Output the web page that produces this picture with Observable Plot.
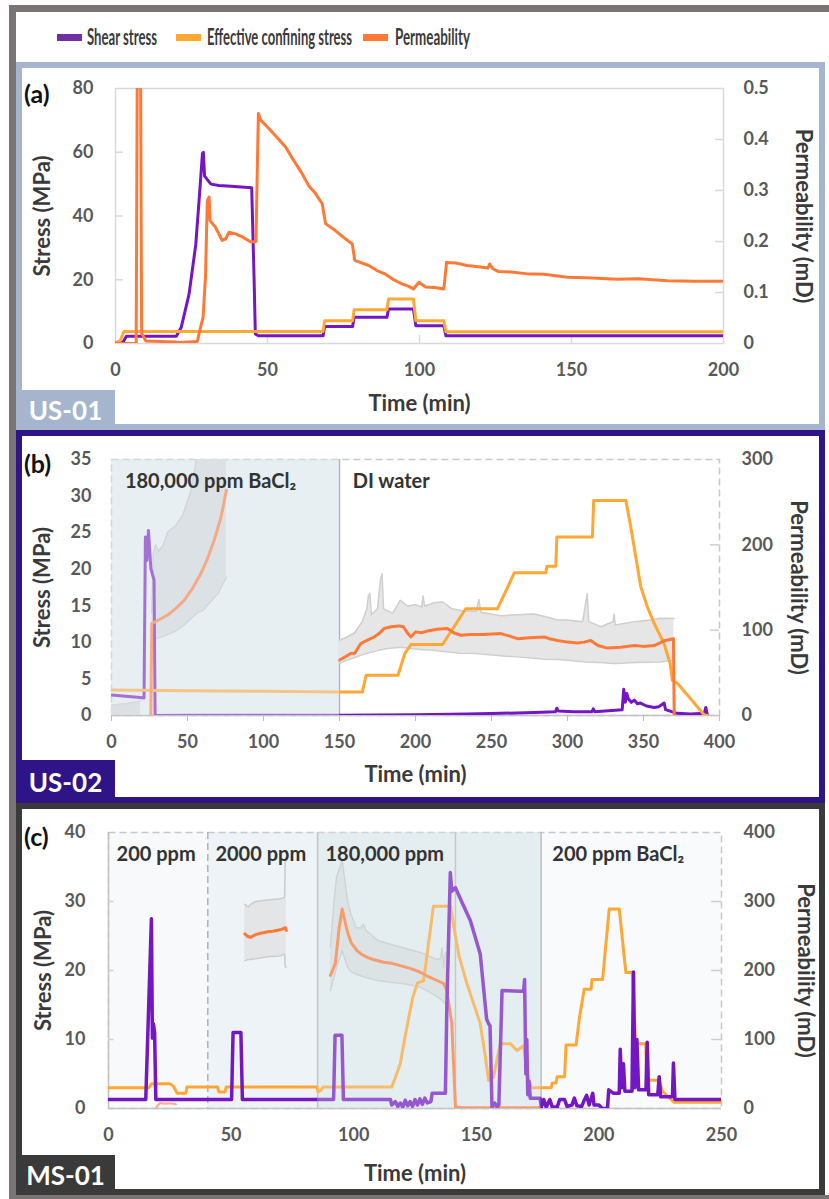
<!DOCTYPE html>
<html><head><meta charset="utf-8">
<script src="https://cdn.jsdelivr.net/npm/d3@7"></script>
<script src="https://cdn.jsdelivr.net/npm/@observablehq/plot@0.6"></script>
<style>
body{margin:0;background:#fff;}
#root{position:relative;width:829px;height:1199px;overflow:hidden;background:#fff;font-family:Lato,"Open Sans",sans-serif;}
.g{position:absolute;background:#7a7574;}
.panel{position:absolute;left:16px;width:809px;box-sizing:border-box;border:6px solid;}
.tag{position:absolute;left:16px;width:99px;color:#fff;font-weight:bold;font-size:26px;display:flex;align-items:center;justify-content:center;}
.plab{position:absolute;left:24px;font-weight:bold;font-size:25px;line-height:30px;color:#111;}
.sw{position:absolute;top:34px;width:25px;height:7px;}
.lt{position:absolute;top:24px;height:26px;line-height:26px;font-size:22px;font-weight:bold;color:#3b3b3b;transform-origin:0 50%;white-space:nowrap;}
.chart{position:absolute;left:0;}
</style></head>
<body><div id="root">
<div class="g" style="left:9px;top:5px;width:7px;height:1194px"></div>
<div class="g" style="left:9px;top:5px;width:820px;height:7px"></div>
<div class="g" style="left:9px;top:1195px;width:820px;height:4px"></div>
<div class="panel" style="top:62px;height:368px;border-color:#a4b5cd"></div>
<div class="panel" style="top:430px;height:373px;border-color:#2f1488"></div>
<div class="panel" style="top:803px;height:392px;border-color:#3a3a3a"></div>
<div id="legend"></div>
<div id="ca" class="chart" style="top:62px"></div>
<div id="cb" class="chart" style="top:430px"></div>
<div id="cc" class="chart" style="top:803px"></div>
<div class="tag" style="top:390px;height:40px;background:#a4b5cd">US-01</div>
<div class="tag" style="top:760px;height:43px;background:#2f1488">US-02</div>
<div class="tag" style="top:1155px;height:40px;background:#3a3a3a">MS-01</div>
<div class="plab" style="top:78px">(a)</div>
<div class="plab" style="top:448px">(b)</div>
<div class="plab" style="top:821px">(c)</div>
</div>
<script>
// ---------- legend ----------
const seriesNames = ["Shear stress", "Effective confining stress", "Permeability"];
const seriesColors = ["#7416c2", "#ffa733", "#ff7936"];

// ---------- panel (a) US-01 : [time (min), value] ----------
const a_shear = [[0,0.3],[2.5,0.5],[3.6,2.3],[20,2.3],[21.6,5],[24.2,15.5],[26.4,31],[27.5,45],[28.6,59.6],[28.9,60],[29.3,52.5],[31.4,50],[34,49.6],[38,49.3],[44.8,48.9],[45.6,20],[46,3],[47,2.4],[68.3,2.4],[68.8,5.3],[78,5.3],[78.5,8.2],[89.3,8.2],[89.8,10.8],[98,10.8],[98.8,5.6],[108,5.6],[108.7,2.4],[200,2.4]];
const a_conf = [[0,0.2],[1.5,0.8],[2.8,3.8],[68.3,3.8],[68.8,7.1],[78,7.1],[78.5,10.6],[89.3,10.6],[89.8,14],[98,14],[98.8,7.1],[108,7.1],[108.7,3.7],[200,3.7]];
const a_perm = [[0,0],[6.8,0],[7.2,0.6],[8.2,0.6],[8.6,0.02],[10,0.005],[15,0.004],[19.5,0.003],[21,0.002],[24,0.003],[26.9,0.004],[27.7,0.025],[28.8,0.051],[29.6,0.13],[30.2,0.28],[30.8,0.287],[31.1,0.241],[32.9,0.228],[35.1,0.202],[36.2,0.205],[37.3,0.218],[39.5,0.215],[41.7,0.209],[44.5,0.199],[46.2,0.2],[47,0.451],[47.8,0.438],[50.5,0.421],[53,0.405],[56,0.385],[58.5,0.36],[61.4,0.333],[63.5,0.31],[65.8,0.294],[68,0.274],[69.1,0.235],[72.4,0.221],[75,0.208],[77.9,0.195],[78.7,0.163],[83.3,0.153],[86,0.143],[88.8,0.136],[91.5,0.125],[94.2,0.117],[96.5,0.112],[98,0.107],[99.8,0.12],[102,0.111],[105,0.11],[108,0.107],[108.9,0.159],[112,0.158],[115.6,0.153],[120,0.15],[122.5,0.148],[123.1,0.156],[124,0.147],[126,0.141],[130,0.14],[135,0.137],[140.9,0.136],[148.6,0.13],[155,0.129],[165,0.126],[172,0.127],[181.5,0.123],[190,0.122],[200,0.122]];

// ---------- panel (b) US-02 ----------
const b_shear = [[0,2.8],[17,2.5],[21.4,2.4],[22.3,24.4],[23.3,21.2],[24.3,25.3],[25.9,20.1],[28,18.5],[28.7,0],[60,0.05],[150,0.05],[200,0.1],[234,0.2],[256,0.3],[278,0.4],[292,0.5],[293,1.0],[294,0.6],[304,0.5],[316,0.5],[317,0.9],[318,0.5],[336,0.8],[337,3.6],[338,1.8],[339,3.0],[340,2.3],[342,1.8],[344,2.1],[346,1.6],[348,1.7],[352,1.3],[357,1.1],[360,1.2],[363.6,1.7],[364.5,0.8],[366,0.7],[372,0.3],[381,0.2],[390,0.3],[391,1.1],[392,0.1]];
const b_conf = [[0,3.5],[50,3.4],[100,3.3],[150,3.2],[165,3.2],[167.5,5.5],[188.5,5.5],[193,8.5],[197,9.7],[217.8,9.7],[233,14.6],[254,14.6],[265,19.5],[285.7,19.5],[286.5,20.4],[292.3,20.4],[293,24.4],[316.4,24.4],[317.2,29.4],[338.4,29.4],[341.6,25.8],[348.2,17.6],[352.6,14.8],[357,12.6],[363.6,9.8],[367.5,7.1],[369,4.8],[372.3,4.4],[378.9,2.8],[385.4,1.2],[389.8,0.1],[392,0]];
const b_perm1 = [[25.9,0],[26.5,107.8],[30,111],[36.8,117.5],[42,125],[47.8,135],[53,148],[58.7,166],[63,183],[67.5,205],[72,232],[75.6,264]];
const b_band1 = [[26.5,95,120],[27.5,92,190],[29,90,200],[31,91,192],[34,93,200],[37,95,215],[42,99,222],[47,105,235],[52,113,262],[55,118,290],[57,121,320],[60,123,330],[70,143,330],[75.6,162,330]];
const b_band0 = [[0,0,12],[10,0,14],[19,0,17]];
const b_perm2 = [[149.8,64.8],[153,68],[157.4,72.6],[160,73],[164,84.4],[168,88],[172.8,92],[176,96],[179.3,102],[184,104],[189.2,105],[192,104],[195,96],[197,92],[200,98],[204,97],[207.9,99],[214,101],[221,102],[225,97],[229.8,94],[236,95],[245,95],[256,96],[262,93],[267,90],[275,91],[284.6,92],[288,90],[293.4,88],[300,86],[306.6,85],[311,86],[315.3,88],[320,82],[326.3,79],[335,80],[344,82],[350,81],[357,82],[363.6,87.5],[369.7,90],[370.2,0]];
const b_band2 = [[149.8,61,88],[155,65,92],[160,68,97],[165,71,110],[168,73,125],[169,73,140],[170,74,143],[171,74,118],[175,76,125],[177,77,160],[178,77,166],[179,78,125],[185,79,120],[190,80,135],[195,79,128],[200,78,130],[204,77,127],[205,77,140],[206,77,128],[212,76.5,132],[218,75,133],[224,74,125],[229.8,73,123],[240,72.6,122],[241.7,72.5,136],[243,72,121],[256,70,117],[267,68.7,118],[278,67,119],[285,66,116],[293.4,65.5,112],[300,64.8,112],[310,63,110],[313,62.5,143],[314,62.5,110],[322,62,104],[330,61,110],[330.6,61,119],[331.5,61,106],[344,62,110],[355,62.5,112],[361,62.7,114],[370,64.8,113.6]];

// ---------- panel (c) MS-01 ----------
const c_shear = [[0,1.3],[15.2,1.3],[17.5,27.5],[17.9,10.2],[18.3,12.3],[18.8,11],[19.3,1.3],[50.2,1.3],[50.8,11],[54,11],[54.6,1.3],[91.8,1.3],[92.4,10.6],[95.2,10.6],[95.8,1.3],[115,1.3],[115.5,0.5],[117,1],[118,0.3],[119,0.8],[120,0.2],[121,1.2],[122,0.4],[123,1],[124,0.3],[125,1.3],[126,0.5],[127,1.4],[128,0.6],[129,1.5],[130,0.8],[131.5,1],[132,2.2],[137.4,2.2],[138,15],[139.4,34.2],[140,31.5],[141.5,32],[144,30],[147.6,27.2],[151.6,22.4],[154.2,13],[155,12.3],[155.6,12],[156.4,0.2],[157.5,0.8],[158.5,0.2],[159.2,0.5],[160.5,17.1],[168,17],[169.3,17],[169.7,18.7],[170.2,5],[170.6,10],[171,2],[171.5,4],[172,1.5],[176,1.5],[176.5,0.2],[177.5,1.3],[178.5,0.2],[180,1.3],[181,0.2],[183,0.2],[184,1.3],[186,1.3],[187,0.3],[189,0.5],[190,1.5],[191,0.4],[193,0.3],[194,1.2],[195,1.9],[196,0.5],[197.5,2.2],[198,0.5],[200,0.5],[201.4,0],[203.5,0],[204,2.7],[206,2.2],[208.3,2.2],[208.7,8.6],[209.3,3],[210,6.5],[210.6,2.5],[213.5,2.5],[214.1,19.8],[214.7,3],[215.5,10],[216.2,2.7],[219.2,2.7],[219.7,9.6],[220.3,2],[224,2],[224.6,4.6],[225.2,1.7],[230,1.7],[230.4,6.6],[231,1.3],[250,1.3]];
const c_conf = [[0,3],[16.5,3],[17.5,3.6],[25,3.6],[26.5,3.2],[28,2.2],[31.5,2.2],[32,3.1],[44.5,3.1],[45,2.4],[47.5,2.4],[48,3.1],[85,3.1],[85.5,2.4],[86.5,2.6],[87.5,3.1],[115.5,3.1],[117,4.5],[119,6.5],[121,10.5],[124,16],[126,18.2],[128.5,18.5],[132.5,29.3],[139.5,29.3],[141,26],[143,22],[146.2,18.1],[151.6,12.3],[153.5,8],[155,4.1],[157,4.5],[159.8,9.4],[163.9,9.4],[166.6,8.4],[169.3,9.1],[171.3,4.1],[172.6,3],[180.5,3],[181,3.7],[182.5,3.7],[183,4.6],[186,4.6],[186.6,9.2],[190.7,9.2],[192,13],[194,17.3],[196.8,17.3],[197.2,18.7],[201.5,18.7],[204.2,28.9],[208.3,28.9],[211,19.7],[213.7,19.7],[215,9.4],[219.1,9.4],[219.5,4.1],[224.5,4.1],[225.9,2.5],[230.6,0.9],[250,0.9]];
const c_perm0 = [[19.5,2],[21,8],[23,7],[25,7.5],[27.5,6]];
const c_perm2 = [[55.6,253],[56.5,250],[57.9,248],[60,252],[62,254],[64.7,256],[67,257],[70,259],[72.2,262],[72.5,258]];
const c_band2 = [[55.6,214,296],[57,216,292],[58,216,296],[60,217,300],[65,220,302],[70,221,304],[71.8,224,306],[72.1,205,358],[72.5,205,360]];
const c_perm3 = [[90.5,193],[92.5,210],[94,260],[95.3,289],[97.3,258],[99,240],[101.3,229],[103,224],[105.5,219],[108,216],[112.2,212],[116,210],[119,207],[123,203],[127.2,197.5],[130,192],[134,185.5],[136.7,181],[138,171],[140,123],[141.5,2],[145,1],[176,1]];
const c_band3 = [[90.5,171,234],[92,190,300],[93,205,335],[95.3,229,359],[97.5,205,301],[99,198,280],[101,195,262],[103,192,262],[104,191,267],[105,190,258],[110,185.5,243],[115,183,238],[120,181,233],[127.2,176,226],[134,162,216],[135.5,158,218],[136,157,233],[136.7,154,204],[137.4,152,226],[138.5,152,226]];

// tick labels
const a_xticks = [0,50,100,150,200], a_yticks = [0,20,40,60,80], a_rticks = [0,0.1,0.2,0.3,0.4,0.5];
const b_xticks = [0,50,100,150,200,250,300,350,400], b_yticks = [0,5,10,15,20,25,30,35], b_rticks = [0,100,200,300];
const c_xticks = [0,50,100,150,200,250], c_yticks = [0,10,20,30,40], c_rticks = [0,100,200,300,400];

const FONT = "Lato, 'Open Sans', sans-serif";
const [CS, CC, CP] = seriesColors;
const TICK = {fontSize: 18, fontWeight: "bold", fill: "#595959", label: null, tickSize: 0};
const TITLE = {fontSize: 22, fontWeight: "bold", fill: "#3a3a3a", text: d => d, textAnchor: "middle", lineAnchor: "middle"};

function line(data, f, stroke, w, extra = {}) {
  return Plot.line(data, {x: d => d[0], y: d => d[1] * f, stroke, strokeWidth: w, clip: true, strokeLinejoin: "round", ...extra});
}
function band(data, f, fill, edge) {
  return [
    Plot.areaY(data, {x: d => d[0], y1: d => d[1] * f, y2: d => d[2] * f, fill, clip: true}),
    Plot.line(data, {x: d => d[0], y: d => d[1] * f, stroke: edge, strokeWidth: 1.5, clip: true}),
    Plot.line(data, {x: d => d[0], y: d => d[2] * f, stroke: edge, strokeWidth: 1.5, clip: true})
  ];
}
function titles(dxL, dxR, dyB) {
  return [
    Plot.text(["Stress (MPa)"], {...TITLE, frameAnchor: "left", dx: dxL, rotate: -90}),
    Plot.text(["Permeability (mD)"], {...TITLE, frameAnchor: "right", dx: dxR, rotate: 90}),
    Plot.text(["Time (min)"], {...TITLE, frameAnchor: "bottom", dy: dyB})
  ];
}
const label = (t, s) => Plot.text([{t, s}], {x: "t", text: "s", frameAnchor: "top", dy: 22, textAnchor: "start", lineAnchor: "middle", fontSize: 20, fontWeight: "bold", fill: "#333"});

// ---------- panel a ----------
const fa = 80 / 0.5;
const A = Plot.plot({
  width: 829, height: 368, marginTop: 26, marginBottom: 87, marginLeft: 115, marginRight: 106,
  x: {domain: [0, 200]}, y: {domain: [0, 80]},
  style: {background: "transparent", fontFamily: FONT, overflow: "visible"},
  marks: [
    Plot.frame({stroke: "#d9d9d9", strokeWidth: 1.5}),
    Plot.ruleY([20, 40, 60], {x1: 0, x2: 2.6, stroke: "#d9d9d9", strokeWidth: 1.5}),
    Plot.ruleY([0.1, 0.2, 0.3, 0.4], {y: d => d * fa, x1: 197.4, x2: 200, stroke: "#d9d9d9", strokeWidth: 1.5}),
    Plot.ruleX([50, 100, 150], {y1: 0, y2: 2.5, stroke: "#d9d9d9", strokeWidth: 1.5}),
    Plot.axisY({...TICK, ticks: a_yticks, tickPadding: 22}),
    Plot.axisY({...TICK, anchor: "right", ticks: a_rticks.map(v => v * fa), tickFormat: d => d === 0 ? "0" : (d / fa).toFixed(1), tickPadding: 20}),
    Plot.axisX({...TICK, ticks: a_xticks, tickPadding: 20}),
    ...titles(-73, 80, 60),
    line(a_shear, 1, CS, 3),
    line(a_conf, 1, CC, 3),
    line(a_perm, fa, CP, 3)
  ]
});
document.getElementById("ca").append(A);

// ---------- panel b ----------
const fb = 35 / 300;
const B = Plot.plot({
  width: 829, height: 373, marginTop: 29, marginBottom: 88, marginLeft: 111, marginRight: 110,
  x: {domain: [0, 400]}, y: {domain: [0, 35]},
  style: {background: "transparent", fontFamily: FONT, overflow: "visible"},
  marks: [
    Plot.rect([[0, 150]], {x1: d => d[0], x2: d => d[1], fill: "#e7eff2"}),
    Plot.frame({stroke: "#c8c8c8", strokeDasharray: "7,4", strokeWidth: 1.5}),
    Plot.ruleX([150], {stroke: "#b3b3b3", strokeWidth: 1.5}),
    Plot.ruleY([0], {stroke: "#c4c4c4", strokeWidth: 1.5}),
    Plot.ruleY([100, 200], {y: d => d * fb, x1: 394, x2: 400, stroke: "#cfcfcf", strokeWidth: 1.5}),
    Plot.axisY({...TICK, ticks: b_yticks, tickPadding: 20}),
    Plot.axisY({...TICK, anchor: "right", ticks: b_rticks.map(v => v * fb), tickFormat: d => String(Math.round(d / fb)), tickPadding: 22}),
    Plot.axisX({...TICK, ticks: b_xticks, tickSize: 6, stroke: "#bfbfbf", tickPadding: 14}),
    ...titles(-69, 79, 59),
    ...band(b_band0, fb, "#d6d6d6", "#cccccc"),
    ...band(b_band1, fb, "#d3d8da", "#c6c6c6"),
    ...band(b_band2, fb, "#e6e6e6", "#cfcfcf"),
    line(b_shear, 1, CS, 3),
    line(b_conf, 1, CC, 3),
    line(b_perm1, fb, CP, 3),
    line(b_perm2, fb, CP, 3),
    Plot.rect([[0, 150]], {x1: d => d[0], x2: d => d[1], fill: "#e7eff2", fillOpacity: 0.42}),
    label(8.8, "180,000 ppm BaCl₂"),
    label(158.7, "DI water")
  ]
});
document.getElementById("cb").append(B);

// ---------- panel c ----------
const fc = 40 / 400;
const regions = [[0, 40.5, "#f7f9fb"], [40.5, 85.3, "#edf3f6"], [85.3, 176.4, "#e4edf0"], [176.4, 250, "#f8fafc"]];
const C = Plot.plot({
  width: 829, height: 392, marginTop: 29, marginBottom: 87, marginLeft: 108, marginRight: 108,
  x: {domain: [0, 250]}, y: {domain: [0, 40]},
  style: {background: "transparent", fontFamily: FONT, overflow: "visible"},
  marks: [
    Plot.rect(regions, {x1: d => d[0], x2: d => d[1], fill: d => d[2]}),
    Plot.frame({stroke: "#c8c8c8", strokeDasharray: "7,4", strokeWidth: 1.5}),
    Plot.ruleY([0], {stroke: "#c4c4c4", strokeWidth: 1.5}),
    Plot.ruleX([0], {stroke: "#c4c4c4", strokeWidth: 1.5}),
    Plot.ruleX([40.5], {stroke: "#a8a8a8", strokeWidth: 1.3, strokeDasharray: "7,4"}),
    Plot.ruleX([85.3, 141.5, 176.4], {stroke: "#b8b8b8", strokeWidth: 1.5}),
    Plot.ruleY([10, 20, 30], {x1: 0, x2: 2.2, stroke: "#cfcfcf", strokeWidth: 1.5}),
    Plot.ruleY([100, 200, 300], {y: d => d * fc, x1: 246, x2: 250, stroke: "#cfcfcf", strokeWidth: 1.5}),
    Plot.axisY({...TICK, ticks: c_yticks, tickPadding: 23}),
    Plot.axisY({...TICK, anchor: "right", ticks: c_rticks.map(v => v * fc), tickFormat: d => String(Math.round(d / fc)), tickPadding: 22}),
    Plot.axisX({...TICK, ticks: c_xticks, tickPadding: 20}),
    ...titles(-65, 84, 65),
    ...band(c_band2, fc, "#e3e5e6", "#cdcdcd"),
    ...band(c_band3, fc, "#d9dfe1", "#c9c9c9"),
    line(c_perm0, fc, CP, 2, {strokeOpacity: 0.6}),
    line(c_conf, 1, CC, 3),
    line(c_perm2, fc, CP, 3),
    line(c_perm3, fc, CP, 3),
    line(c_shear, 1, CS, 3.5),
    Plot.rect([[85.3, 176.4]], {x1: d => d[0], x2: d => d[1], fill: "#e4edf0", fillOpacity: 0.3}),
    label(3.3, "200 ppm"),
    label(43.6, "2000 ppm"),
    label(88.5, "180,000 ppm"),
    label(181, "200 ppm BaCl₂")
  ]
});
document.getElementById("cc").append(C);

// ---------- legend (HTML) ----------
const legendPos = [[57, 87, 70], [176, 207, 145], [363, 395, 75]];
const lg = document.getElementById("legend");
seriesNames.forEach((name, i) => {
  const [sx, tx, tw] = legendPos[i];
  const sw = document.createElement("div");
  sw.className = "sw"; sw.style.left = sx + "px"; sw.style.background = i === 0 ? "#7030a0" : seriesColors[i];
  const t = document.createElement("div");
  t.className = "lt"; t.style.left = tx + "px"; t.textContent = name;
  lg.append(sw, t);
  const w = t.getBoundingClientRect().width;
  if (w > 0) t.style.transform = `scaleX(${tw / w})`;
});
</script>
</body></html>
